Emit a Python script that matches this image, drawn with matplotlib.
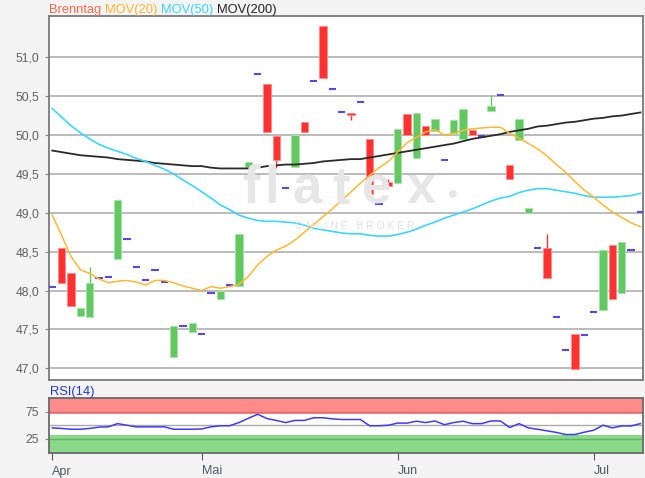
import numpy as np
import matplotlib
matplotlib.use("Agg")
import matplotlib.pyplot as plt
from matplotlib.patches import Rectangle

plt.rcParams['font.family'] = ['Liberation Sans', 'DejaVu Sans']

# ---------------- data ----------------
open_ = [48.04, 48.55, 48.23, 47.67, 47.66, 48.16, 48.17, 48.40, 48.66, 48.30,
         48.13, 48.26, 48.11, 47.15, 47.54, 47.47, 47.44, 47.97, 47.89, 48.07,
         48.06, 49.59, 50.78, 50.65, 49.99, 49.32, 49.59, 50.17, 50.69, 51.40,
         50.59, 50.30, 50.28, 50.43, 49.95, 49.11, 49.39, 49.38, 50.27, 49.70,
         50.11, 50.05, 49.68, 50.01, 49.95, 50.07, 49.99, 50.31, 50.51, 49.62,
         49.93, 49.00, 48.55, 48.55, 47.66, 47.24, 47.44, 47.43, 47.73, 47.75,
         48.58, 47.97, 48.52, 49.01]
close_ = [48.04, 48.10, 47.80, 47.78, 48.10, 48.16, 48.17, 49.16, 48.66, 48.30,
          48.13, 48.26, 48.11, 47.54, 47.54, 47.58, 47.44, 47.97, 48.00, 48.07,
          48.73, 49.65, 50.78, 50.04, 49.68, 49.32, 50.00, 50.04, 50.69, 50.73,
          50.59, 50.30, 50.26, 50.43, 49.24, 49.11, 49.35, 50.08, 50.00, 50.28,
          50.00, 50.20, 49.68, 50.19, 50.34, 50.00, 49.99, 50.37, 50.51, 49.44,
          50.20, 49.06, 48.55, 48.16, 47.66, 47.24, 46.99, 47.43, 47.73, 48.52,
          47.89, 48.63, 48.52, 49.01]
high_ = [48.04, 48.55, 48.23, 47.78, 48.30, 48.16, 48.17, 49.16, 48.66, 48.30,
         48.13, 48.26, 48.11, 47.54, 47.54, 47.58, 47.44, 47.97, 48.00, 48.07,
         48.73, 49.65, 50.78, 50.65, 49.99, 49.32, 50.00, 50.17, 50.69, 51.40,
         50.59, 50.30, 50.28, 50.43, 49.95, 49.11, 49.44, 50.08, 50.27, 50.28,
         50.11, 50.20, 49.68, 50.19, 50.34, 50.07, 49.99, 50.51, 50.51, 49.62,
         50.20, 49.06, 48.55, 48.73, 47.66, 47.24, 47.44, 47.43, 47.73, 48.52,
         48.58, 48.63, 48.52, 49.01]
low_ = [48.04, 48.10, 47.80, 47.67, 47.66, 48.16, 48.17, 48.40, 48.66, 48.30,
        48.13, 48.26, 48.11, 47.15, 47.54, 47.47, 47.44, 47.97, 47.89, 48.07,
        48.06, 49.59, 50.78, 50.04, 49.58, 49.32, 49.59, 50.04, 50.69, 50.73,
        50.59, 50.30, 50.19, 50.43, 49.24, 49.11, 49.35, 49.38, 50.00, 49.70,
        50.00, 50.05, 49.68, 50.01, 49.95, 50.00, 49.99, 50.31, 50.51, 49.44,
        49.93, 49.00, 48.55, 48.16, 47.66, 47.24, 46.99, 47.43, 47.73, 47.75,
        47.89, 47.97, 48.52, 49.01]

mov20 = [48.97, 48.71, 48.44, 48.27, 48.22, 48.15, 48.10, 48.12, 48.13, 48.11,
         48.07, 48.13, 48.13, 48.10, 48.06, 48.03, 48.00, 48.05, 48.03, 48.05,
         48.08, 48.18, 48.33, 48.44, 48.52, 48.57, 48.65, 48.75, 48.85, 48.95,
         49.05, 49.16, 49.27, 49.38, 49.48, 49.58, 49.66, 49.78, 49.90, 49.97,
         50.04, 50.07, 50.00, 50.02, 50.06, 50.08, 50.09, 50.10, 50.10, 50.02,
         49.96, 49.89, 49.82, 49.73, 49.62, 49.52, 49.40, 49.29, 49.20, 49.10,
         49.01, 48.94, 48.87, 48.82]
mov50 = [50.34, 50.23, 50.12, 50.03, 49.95, 49.88, 49.83, 49.79, 49.75, 49.70,
         49.66, 49.61, 49.56, 49.50, 49.42, 49.35, 49.27, 49.19, 49.10, 49.04,
         48.97, 48.93, 48.90, 48.89, 48.89, 48.88, 48.87, 48.84, 48.80, 48.78,
         48.76, 48.74, 48.73, 48.73, 48.71, 48.70, 48.70, 48.72, 48.75, 48.79,
         48.84, 48.88, 48.93, 48.97, 49.01, 49.05, 49.10, 49.15, 49.19, 49.21,
         49.26, 49.29, 49.31, 49.31, 49.29, 49.27, 49.25, 49.22, 49.20, 49.20,
         49.20, 49.21, 49.22, 49.25]
mov200 = [49.80, 49.78, 49.76, 49.74, 49.73, 49.72, 49.71, 49.69, 49.68, 49.67,
          49.66, 49.64, 49.63, 49.62, 49.61, 49.60, 49.60, 49.58, 49.57, 49.57,
          49.57, 49.57, 49.58, 49.60, 49.61, 49.62, 49.62, 49.63, 49.64, 49.66,
          49.67, 49.68, 49.69, 49.69, 49.71, 49.73, 49.75, 49.77, 49.79, 49.81,
          49.83, 49.85, 49.87, 49.89, 49.92, 49.95, 49.97, 49.99, 50.01, 50.04,
          50.06, 50.08, 50.11, 50.12, 50.14, 50.16, 50.17, 50.19, 50.21, 50.22,
          50.24, 50.25, 50.27, 50.29]
rsi14 = [45, 44, 42.5, 42.5, 44, 46.5, 47, 53, 50, 47,
         47, 47, 47, 42.5, 42.5, 42.5, 43, 47, 49, 49,
         55, 63, 70.5, 62.5, 59, 55, 59, 59, 64, 64,
         62, 60.7, 60.7, 60.7, 49, 49, 50, 54, 54, 57.5,
         55, 58, 51, 55, 57.5, 53, 53, 58, 58, 45.7,
         53, 45, 42.5, 39.5, 36.5, 32.6, 32.6, 37, 40.6, 50,
         45, 48.7, 48.7, 53]

ytick_vals = [47.0, 47.5, 48.0, 48.5, 49.0, 49.5, 50.0, 50.5, 51.0]
ytick_labels = ["47,0", "47,5", "48,0", "48,5", "49,0", "49,5", "50,0", "50,5", "51,0"]
month_idx = [0, 16, 37, 58]
month_labels = ["Apr", "Mai", "Jun", "Jul"]
rsi_ticks = [25, 75]
rsi_tick_labels = ["25", "75"]
legend_names = ["Brenntag", "MOV(20)", "MOV(50)", "MOV(200)"]

# ---------------- layout ----------------
W, H = 645, 478
fig = plt.figure(figsize=(W / 100, H / 100), dpi=100)
fig.patch.set_facecolor('#f4f4f4')


def rect(l, t, r, b):
    return [l / W, 1 - b / H, (r - l) / W, (b - t) / H]


ax = fig.add_axes(rect(49, 16, 643, 380))
rax = fig.add_axes(rect(49, 398, 643, 453))

n = len(open_)
x = np.arange(n)
xlim = (-0.35, 63.28)

# ---------------- main panel ----------------
ax.set_facecolor('white')
ax.set_xlim(*xlim)
ax.set_ylim(46.85, 51.53)
for v in ytick_vals:
    ax.axhline(v, color='#b5b5b5', lw=1.3, zorder=1)

# watermark
wm_chars = ['f', 'l', 'a', 't', 'e', 'x', '•']
wm_px = [251, 272, 307, 341, 377, 421, 452]
for ch, px in zip(wm_chars, wm_px):
    fig.text(px / W, 1 - 203 / H, ch, fontsize=38 if ch != '•' else 20,
             fontweight='bold', color='#e6e6e6', ha='center', va='baseline', zorder=0.5)
fig.text(355 / W, 1 - 226 / H, "O N L I N E   B R O K E R", fontsize=7.5,
         color='#e0e0e0', ha='center', va='center')

bw = 0.78
for i in range(n):
    o, c, h, l = open_[i], close_[i], high_[i], low_[i]
    if abs(c - o) < 1e-9:
        ax.hlines(o, i - bw / 2, i + bw / 2, color='#5a46e6', lw=1.5, zorder=3)
        continue
    up = c > o
    face = '#62c962' if up else '#ff3232'
    edge = '#a6e3a6' if up else '#ff8c8c'
    lo, hi = min(o, c), max(o, c)
    if h > hi + 1e-9:
        ax.vlines(i, hi, h, color=face, lw=1.0, zorder=3)
    if l < lo - 1e-9:
        ax.vlines(i, l, lo, color=face, lw=1.0, zorder=3)
    ax.add_patch(Rectangle((i - bw / 2, lo), bw, hi - lo, facecolor=face,
                           edgecolor=edge, lw=0.7, zorder=3))

ax.plot(x, mov200, color='#2a2a2a', lw=1.3, zorder=4)
ax.plot(x, mov50, color='#3cd6ff', lw=1.2, zorder=4)
ax.plot(x, mov20, color='#ffb833', lw=1.1, zorder=4)

ax.set_yticks(ytick_vals)
ax.set_yticklabels(ytick_labels)
ax.set_xticks([])
ax.tick_params(axis='y', length=3, color='#888888', labelsize=8.7,
               labelcolor='#606060', pad=4)
for s in ax.spines.values():
    s.set_color('#7a7a7a')
    s.set_linewidth(1.3)

# ---------------- RSI panel ----------------
rax.set_facecolor('white')
rax.set_xlim(*xlim)
rax.set_ylim(-2, 101)
rax.axhspan(71, 101, color='#ff8a8a', lw=0, zorder=1)
rax.axhspan(-2, 32, color='#8ad88a', lw=0, zorder=1)
rax.axhline(75, color='#e06a6a', lw=1.0, zorder=2)
rax.axhline(25, color='#5cb85c', lw=1.0, zorder=2)
rax.axhline(50, color='#aaaaaa', lw=1.0, zorder=2)
rax.plot(x, rsi14, color='#3c3cf5', lw=1.1, zorder=3)
rax.set_yticks(rsi_ticks)
rax.set_yticklabels(rsi_tick_labels)
rax.set_xticks(month_idx)
rax.set_xticklabels(month_labels)
for lbl in rax.get_xticklabels():
    lbl.set_ha('left')
rax.tick_params(axis='y', length=3, color='#888888', labelsize=8.7,
                labelcolor='#606060', pad=4)
rax.tick_params(axis='x', length=5, color='#555555', labelsize=9,
                labelcolor='#4a5a6a', pad=4)
for s in rax.spines.values():
    s.set_color('#6a6a6a')
    s.set_linewidth(1.3)

# ---------------- titles (chained) ----------------
legend_colors = ['#ff6a4d', '#ffb52e', '#3dd5ff', '#222222']
fig.canvas.draw()
renderer = fig.canvas.get_renderer()
cur = 49.3
for txt, col in zip(legend_names, legend_colors):
    t = fig.text(cur / W, 1 - 12.5 / H, txt, color=col, fontsize=9.3, ha='left', va='baseline')
    bb = t.get_window_extent(renderer=renderer)
    cur = bb.x1 + 3.5
fig.text(50 / W, 1 - 395 / H, "RSI(14)", color='#2233ee', fontsize=9.3, ha='left', va='baseline')

fig.savefig('out.png', dpi=100, facecolor=fig.get_facecolor())
